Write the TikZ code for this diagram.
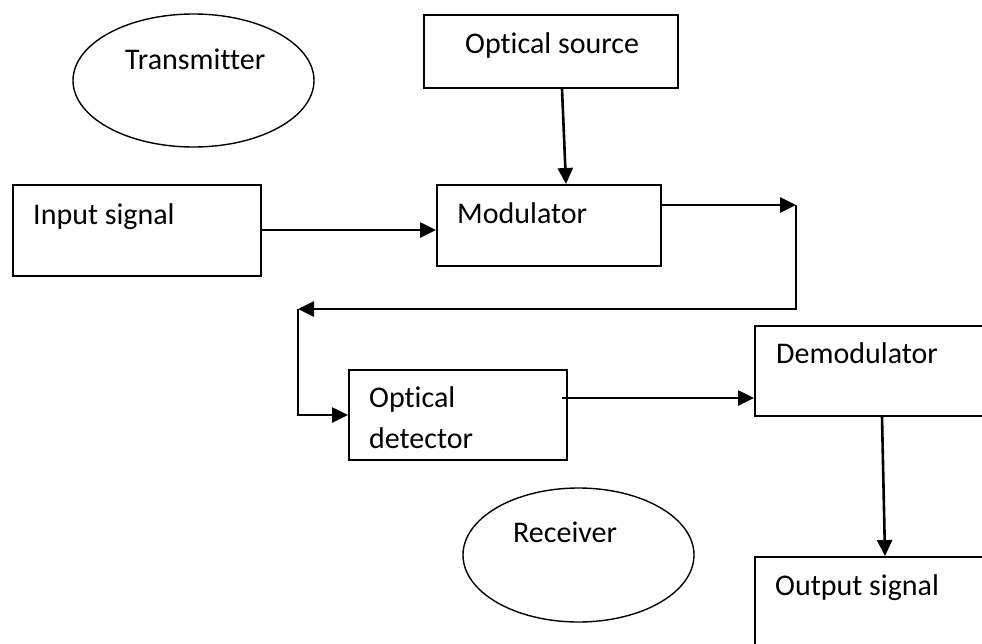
\documentclass[tikz,border=0pt]{standalone}
\usepackage{fontspec}
\setmainfont{Carlito}[Ligatures={NoCommon}]
\usetikzlibrary{arrows.meta,shapes.geometric}
\tikzset{
  blk/.style={draw, line width=1.8pt, rectangle, anchor=north west, inner sep=0pt},
  oval/.style={draw, line width=1.4pt, ellipse, inner sep=0pt},
  lbl/.style={anchor=base west, inner sep=0pt, font=\fontsize{30}{35}\selectfont},
  arr/.style={line width=2.6pt, -{Triangle[length=16pt,width=15pt]}},
}
\begin{document}
\begin{tikzpicture}[x=1pt, y=-1pt]
  \useasboundingbox (0,0) rectangle (982,643);
  \fill[white] (0,0) rectangle (982,643);
  \clip (0,0) rectangle (982,643);

  % group ellipses
  \node[oval, minimum width=241pt, minimum height=133pt] (tx) at (193.5,80.5) {};
  \node[lbl] (txl) at (125,69) {Transmitter};
  \node[oval, minimum width=231pt, minimum height=134pt] (rx) at (578.5,555) {};
  \node[lbl] (rxl) at (513,542) {Receiver};

  % blocks
  \node[blk, minimum width=254pt, minimum height=73pt] (src) at (423,14) {};
  \node[lbl] (srcl) at (465,53) {Optical source};
  \node[blk, minimum width=248pt, minimum height=91pt] (inp) at (12,184) {};
  \node[lbl] (inpl) at (33,224) {Input signal};
  \node[blk, minimum width=224pt, minimum height=81pt] (mod) at (436,184) {};
  \node[lbl] (modl) at (457,223) {Modulator};
  \node[blk, minimum width=218pt, minimum height=90pt] (det) at (348,369) {};
  \node[lbl] (detl1) at (369,407) {Optical};
  \node[lbl] (detl2) at (369,448) {detector};
  \node[blk, minimum width=260pt, minimum height=90pt] (dem) at (754,325) {};
  \node[lbl] (deml) at (776,363) {Demodulator};
  \node[blk, minimum width=260pt, minimum height=150pt] (out) at (754,556) {};
  \node[lbl] (outl) at (775,595) {Output signal};

  % fibre link turning points
  \coordinate (c1) at (796,205);
  \coordinate (c2) at (298,309);

  % connectors
  \draw[arr] (inp.east |- 0,230) -- (mod.west |- 0,230);
  \draw[arr] (src.south -| 562,0) -- (mod.north -| 566,0);
  \draw[arr] (mod.east |- c1) -- (c1);
  \draw[arr] (c1) |- (c2);
  \draw[arr] (c2) |- (det.west |- 0,415);
  \draw[arr] (562,398) -- (dem.west |- 0,398);
  \draw[arr] (dem.south -| 882,0) -- (out.north -| 885,0);
\end{tikzpicture}
\end{document}
